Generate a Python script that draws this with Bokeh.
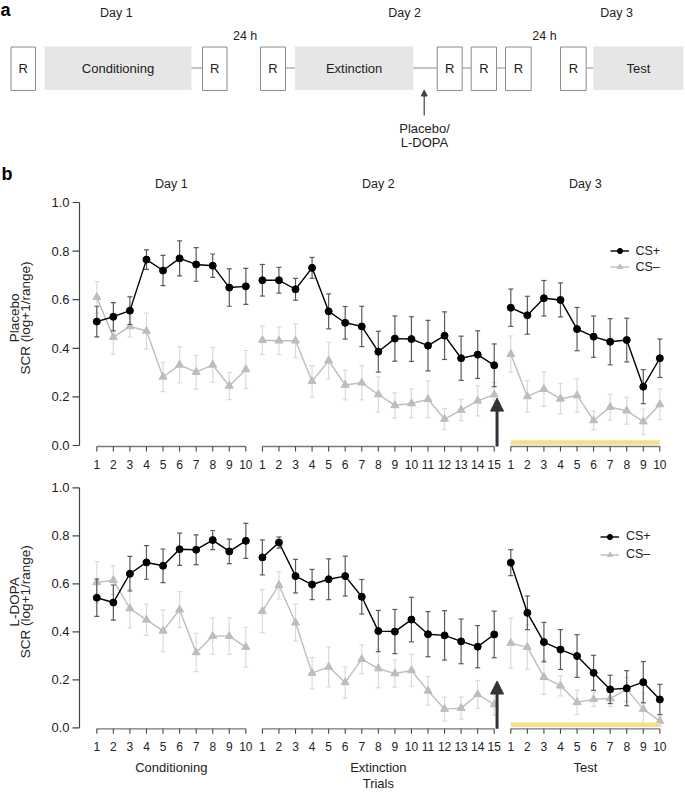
import numpy as np
from bokeh.plotting import figure
from bokeh.models import Range1d, Legend, LegendItem, Arrow, NormalHead
from bokeh.core.properties import value
from bokeh.embed import file_html
from bokeh.resources import INLINE

FONT = "Liberation Sans"

# ---------------- data ----------------
phases = ["Conditioning", "Extinction", "Test"]
days = ["Day 1", "Day 2", "Day 3"]
n_trials = [10, 15, 10]
groups = ["Placebo", "L-DOPA"]
series = ["CS+", "CS\u2013"]
y_ticks = [0.0, 0.2, 0.4, 0.6, 0.8, 1.0]

plc_csp_cond = [0.51, 0.53, 0.555, 0.765, 0.72, 0.77, 0.745, 0.74, 0.65, 0.655]
plc_csp_cond_se = [0.063, 0.058, 0.057, 0.04, 0.062, 0.072, 0.069, 0.048, 0.077, 0.074]
plc_csp_ext = [0.68, 0.68, 0.643, 0.731, 0.552, 0.505, 0.49, 0.386, 0.44, 0.438, 0.411, 0.452, 0.359, 0.374, 0.33]
plc_csp_ext_se = [0.065, 0.053, 0.045, 0.043, 0.072, 0.067, 0.083, 0.084, 0.093, 0.092, 0.104, 0.098, 0.091, 0.098, 0.088]
plc_csp_test = [0.567, 0.536, 0.606, 0.599, 0.479, 0.448, 0.427, 0.434, 0.242, 0.359]
plc_csp_test_se = [0.077, 0.078, 0.073, 0.07, 0.089, 0.085, 0.095, 0.09, 0.07, 0.079]

plc_csm_cond = [0.61, 0.446, 0.49, 0.471, 0.282, 0.332, 0.302, 0.332, 0.245, 0.313]
plc_csm_cond_se = [0.065, 0.07, 0.043, 0.074, 0.06, 0.074, 0.069, 0.072, 0.056, 0.078]
plc_csm_ext = [0.433, 0.431, 0.431, 0.264, 0.349, 0.249, 0.258, 0.21, 0.165, 0.173, 0.19, 0.109, 0.146, 0.184, 0.209]
plc_csm_ext_se = [0.059, 0.057, 0.069, 0.065, 0.075, 0.061, 0.07, 0.072, 0.052, 0.06, 0.076, 0.043, 0.044, 0.062, 0.05]
plc_csm_test = [0.376, 0.202, 0.232, 0.192, 0.206, 0.103, 0.158, 0.143, 0.098, 0.169]
plc_csm_test_se = [0.075, 0.065, 0.071, 0.063, 0.068, 0.038, 0.053, 0.055, 0.052, 0.063]

ldp_csp_cond = [0.542, 0.522, 0.642, 0.689, 0.675, 0.744, 0.742, 0.782, 0.735, 0.779]
ldp_csp_cond_se = [0.078, 0.073, 0.072, 0.07, 0.07, 0.067, 0.062, 0.04, 0.051, 0.073]
ldp_csp_ext = [0.71, 0.772, 0.632, 0.597, 0.619, 0.632, 0.546, 0.403, 0.401, 0.451, 0.39, 0.385, 0.36, 0.338, 0.389]
ldp_csp_ext_se = [0.073, 0.023, 0.07, 0.063, 0.085, 0.083, 0.072, 0.086, 0.092, 0.093, 0.094, 0.103, 0.093, 0.088, 0.097]
ldp_csp_test = [0.688, 0.479, 0.357, 0.326, 0.299, 0.229, 0.16, 0.165, 0.19, 0.118]
ldp_csp_test_se = [0.054, 0.07, 0.082, 0.083, 0.089, 0.073, 0.059, 0.073, 0.086, 0.063]

ldp_csm_cond = [0.606, 0.615, 0.497, 0.45, 0.404, 0.492, 0.314, 0.382, 0.382, 0.336]
ldp_csm_cond_se = [0.087, 0.06, 0.081, 0.065, 0.087, 0.075, 0.08, 0.076, 0.076, 0.083]
ldp_csm_ext = [0.486, 0.594, 0.438, 0.228, 0.254, 0.189, 0.286, 0.247, 0.226, 0.239, 0.154, 0.078, 0.082, 0.139, 0.097]
ldp_csm_ext_se = [0.09, 0.057, 0.077, 0.065, 0.083, 0.065, 0.06, 0.08, 0.057, 0.067, 0.06, 0.05, 0.046, 0.058, 0.045]
ldp_csm_test = [0.353, 0.336, 0.211, 0.175, 0.106, 0.119, 0.122, 0.16, 0.078, 0.028]
ldp_csm_test_se = [0.104, 0.092, 0.072, 0.042, 0.051, 0.03, 0.034, 0.05, 0.066, 0.02]

DATA = {
    "Placebo": {
        "CS+": [(plc_csp_cond, plc_csp_cond_se), (plc_csp_ext, plc_csp_ext_se), (plc_csp_test, plc_csp_test_se)],
        "CS\u2013": [(plc_csm_cond, plc_csm_cond_se), (plc_csm_ext, plc_csm_ext_se), (plc_csm_test, plc_csm_test_se)],
    },
    "L-DOPA": {
        "CS+": [(ldp_csp_cond, ldp_csp_cond_se), (ldp_csp_ext, ldp_csp_ext_se), (ldp_csp_test, ldp_csp_test_se)],
        "CS\u2013": [(ldp_csm_cond, ldp_csm_cond_se), (ldp_csm_ext, ldp_csm_ext_se), (ldp_csm_test, ldp_csm_test_se)],
    },
}

# ---------------- styles / layout ----------------
STYLE = {
    "CS+": dict(color="#000000", err="#5a5a5a", marker="circle", size=7),
    "CS\u2013": dict(color="#bdbdbd", err="#dadada", marker="triangle", size=8),
}
TXT = "#222222"
W, H = 685, 792
LEFT, TOP = 0, 0                      # canvas origin on screen
RIGHT, BOTTOM = LEFT + W, TOP + H
X1, U = 96.3, 16.56                   # screen x of trial position 1, px per trial
YAX = 79.0                            # screen x of y axes

# row geometry: screen y of value 0, px per unit, legend (glyph x, bottom, step), tick-label offset
ROWS = {
    "Placebo": dict(zero=445.0, scale=243.0, leg=(609.5, 273.5, 15), ticklab=19.0),
    "L-DOPA": dict(zero=727.3, scale=240.0, leg=(600.0, 561.0, 17), ticklab=18.7),
}

p = figure(width=W, height=H, x_range=Range1d(LEFT, RIGHT), y_range=Range1d(BOTTOM, TOP),
           output_backend="svg", toolbar_location=None, x_axis_location=None,
           y_axis_location=None, min_border=0)
p.grid.visible = False
p.outline_line_color = None
p.extra_x_ranges = {"trial": Range1d(1 - (X1 - LEFT) / U, 1 + (RIGHT - X1) / U)}
for g in groups:
    r = ROWS[g]
    p.extra_y_ranges[g] = Range1d((r["zero"] - BOTTOM) / r["scale"], (r["zero"] - TOP) / r["scale"])


def txt(x, y, text, size="13px", align="center", baseline="middle", **kw):
    p.text(x=x, y=y, text=text, text_font=value(FONT), text_font_size=size,
           text_align=align, text_baseline=baseline, text_color=kw.pop("color", TXT), **kw)


# ---------------- panel a (schematic, screen coordinates) ----------------
r_boxes = [(10.5, 35), (202, 226.5), (260, 285), (436.7, 461.7), (470.7, 496), (505, 530.7), (560, 585.7)]
stage_boxes = [(44, 191), (294.5, 412.7), (592.7, 683)]
stage_text_x = [117.5, 353.6, 638]
connectors = [(191, 202), (285, 294.5), (412.7, 436.7), (461.7, 470.7), (496, 505), (585.7, 592.7)]
p.quad(left=[b[0] for b in stage_boxes], right=[b[1] for b in stage_boxes],
       top=[46] * 3, bottom=[89.5] * 3, fill_color="#e6e6e6", line_color=None)
p.segment(x0=[c[0] for c in connectors], x1=[c[1] for c in connectors],
          y0=[67.5] * len(connectors), y1=[67.5] * len(connectors),
          line_color="#8c8c8c", line_width=1.2)
p.quad(left=[b[0] for b in r_boxes], right=[b[1] for b in r_boxes],
       top=[46.5] * len(r_boxes), bottom=[90] * len(r_boxes),
       fill_color="white", line_color="#8c8c8c", line_width=1)
txt([(b[0] + b[1]) / 2 for b in r_boxes], [68] * len(r_boxes), ["R"] * len(r_boxes), size="13px")
txt(stage_text_x, [68] * 3, phases, size="13px")
txt([115.8, 404, 616], [12.7] * 3, days, size="12.5px")
txt([244.6, 544], [35] * 2, ["24 h", "24 h"], size="12.5px")
txt([424, 424], [128.3, 141.7], ["Placebo/", "L-DOPA"], size="13px")
p.add_layout(Arrow(x_start=423.7, y_start=115, x_end=423.7, y_end=89.5,
                   line_color="#444444", line_width=1.2,
                   end=NormalHead(size=6, fill_color="#444444", line_color="#444444")))
txt([0], [-1], ["a"], size="18px", align="left", baseline="top",
    text_font_style="bold", color="#000000")
txt([1], [183], ["b"], size="18px", align="left", baseline="bottom",
    text_font_style="bold", color="#000000")

# ---------------- panel b rows ----------------
starts = np.cumsum([0] + n_trials[:-1])

for gi, g in enumerate(groups):
    r = ROWS[g]
    px = 1.0 / r["scale"]
    ry = dict(y_range_name=g)
    rxy = dict(x_range_name="trial", y_range_name=g)

    # y axis
    p.segment(x0=[YAX], x1=[YAX], y0=[y_ticks[0]], y1=[y_ticks[-1]],
              line_color="#444444", line_width=1.2, **ry)
    p.segment(x0=[YAX - 7] * len(y_ticks), x1=[YAX] * len(y_ticks), y0=y_ticks, y1=y_ticks,
              line_color="#444444", line_width=1.2, **ry)
    p.text(x=[YAX - 10] * len(y_ticks), y=y_ticks, text=["%.1f" % t for t in y_ticks],
           text_font=value(FONT), text_font_size="13px", text_align="right",
           text_baseline="middle", text_color=TXT, **ry)
    p.text(x=[14, 25], y=[0.525, 0.525], text=[g, "SCR (log+1/range)"], angle=np.pi / 2,
           text_font=value(FONT), text_font_size="13.5px", text_align="center",
           text_baseline="middle", text_color=TXT, **ry)

    # data
    renderers = {}
    for s in ["CS\u2013", "CS+"]:
        st = STYLE[s]
        for k in range(3):
            m, se = DATA[g][s][k]
            m = np.array(m)
            se = np.array(se)
            pos = starts[k] + np.arange(1, n_trials[k] + 1)
            p.segment(x0=pos, x1=pos, y0=m - se, y1=m + se, line_color=st["err"], line_width=1.2, **rxy)
            p.scatter(x=np.concatenate([pos, pos]), y=np.concatenate([m - se, m + se]),
                      marker="dash", size=5, line_color=st["err"], line_width=1.2, **rxy)
            lr = p.line(x=pos, y=m, line_color=st["color"], line_width=1.4, **rxy)
            sr = p.scatter(x=pos, y=m, marker=st["marker"], size=st["size"],
                           fill_color=st["color"], line_color=st["color"], **rxy)
            if k == 0:
                renderers[s] = [lr, sr]

    # x axes: one per phase
    axis_y, tick_y, lab_y = -1 * px, -6 * px, -r["ticklab"] * px
    for k in range(3):
        trials = np.arange(1, n_trials[k] + 1)
        pos = starts[k] + trials
        p.segment(x0=[pos[0]], x1=[pos[-1]], y0=[axis_y], y1=[axis_y],
                  line_color="#777777", line_width=1.3, **rxy)
        p.segment(x0=pos, x1=pos, y0=[axis_y] * len(pos), y1=[tick_y] * len(pos),
                  line_color="#444444", line_width=1.1, **rxy)
        p.text(x=pos, y=[lab_y] * len(pos), text=[str(t) for t in trials],
               text_font=value(FONT), text_font_size="12px", text_align="center",
               text_baseline="middle", text_color=TXT, **rxy)
        center = starts[k] + (n_trials[k] + 1) / 2
        if gi == 0:
            p.text(x=[center], y=[(r["zero"] - 183) * px], text=[days[k]],
                   text_font=value(FONT), text_font_size="12.5px", text_align="center",
                   text_baseline="middle", text_color=TXT, **rxy)
        else:
            p.text(x=[center], y=[-39.2 * px], text=[phases[k]],
                   text_font=value(FONT), text_font_size="13px", text_align="center",
                   text_baseline="middle", text_color=TXT, **rxy)
            if k == 1:
                p.text(x=[center], y=[-55.3 * px], text=["Trials"],
                       text_font=value(FONT), text_font_size="13px", text_align="center",
                       text_baseline="middle", text_color=TXT, **rxy)

    # test-phase bar
    tpos = starts[2] + np.arange(1, n_trials[2] + 1)
    p.segment(x0=[tpos[0]], x1=[tpos[-1]], y0=[3 * px], y1=[3 * px],
              line_color="#f6df8c", line_width=4.5, line_cap="butt", **rxy)

    # drug administration arrow (after last extinction trial)
    arrow_x = starts[1] + n_trials[1] + 0.17
    p.add_layout(Arrow(x_start=arrow_x, y_start=axis_y, x_end=arrow_x, y_end=0.195,
                       line_color="#333333", line_width=3,
                       end=NormalHead(size=13, fill_color="#333333", line_color="#333333"), **rxy))

    lx, lbottom, lstep = r["leg"]
    leg = Legend(items=[LegendItem(label=s, renderers=renderers[s]) for s in series],
                 location=(lx - LEFT, BOTTOM - lbottom),
                 border_line_color=None, background_fill_alpha=0, padding=0, margin=0,
                 spacing=int(lstep - 13), glyph_width=19, glyph_height=13, label_height=13,
                 label_standoff=7, label_text_font=FONT, label_text_font_size="12.5px",
                 label_text_color=TXT)
    p.add_layout(leg)

open("out.html", "w").write(file_html(p, INLINE))
